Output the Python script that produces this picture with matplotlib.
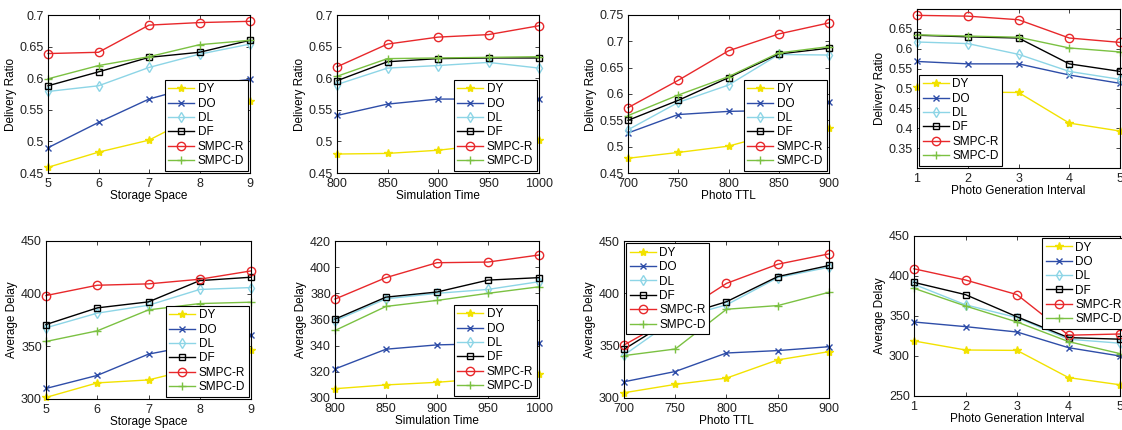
import numpy as np
import matplotlib
matplotlib.use("Agg")
import matplotlib.pyplot as plt
from matplotlib.ticker import FuncFormatter

plt.rcParams["font.family"] = ["Liberation Sans", "DejaVu Sans"]
plt.rcParams["font.size"] = 8.5

# ---------------------------------------------------------------------------
# Data
# ---------------------------------------------------------------------------
series = ["DY", "DO", "DL", "DF", "SMPC-R", "SMPC-D"]

storage_space = [5, 6, 7, 8, 9]
sim_time = [800, 850, 900, 950, 1000]
photo_ttl = [700, 750, 800, 850, 900]
gen_interval = [1, 2, 3, 4, 5]

# delivery ratio
dr_storage = [
    [0.459, 0.483, 0.502, 0.543, 0.564],
    [0.490, 0.530, 0.567, 0.589, 0.598],
    [0.579, 0.588, 0.617, 0.638, 0.654],
    [0.588, 0.610, 0.633, 0.641, 0.660],
    [0.639, 0.641, 0.684, 0.688, 0.690],
    [0.599, 0.620, 0.634, 0.653, 0.660],
]
dr_simtime = [
    [0.480, 0.481, 0.486, 0.495, 0.502],
    [0.541, 0.559, 0.567, 0.567, 0.567],
    [0.590, 0.616, 0.620, 0.625, 0.616],
    [0.596, 0.626, 0.631, 0.632, 0.632],
    [0.618, 0.654, 0.665, 0.669, 0.683],
    [0.603, 0.631, 0.632, 0.633, 0.634],
]
dr_ttl = [
    [0.478, 0.489, 0.501, 0.527, 0.536],
    [0.526, 0.561, 0.567, 0.569, 0.584],
    [0.532, 0.584, 0.617, 0.675, 0.674],
    [0.550, 0.588, 0.631, 0.676, 0.687],
    [0.574, 0.626, 0.682, 0.714, 0.735],
    [0.559, 0.598, 0.633, 0.678, 0.690],
]
dr_interval = [
    [0.505, 0.491, 0.490, 0.413, 0.393],
    [0.568, 0.562, 0.562, 0.534, 0.513],
    [0.617, 0.613, 0.586, 0.543, 0.523],
    [0.634, 0.630, 0.627, 0.562, 0.543],
    [0.684, 0.682, 0.673, 0.627, 0.616],
    [0.635, 0.632, 0.629, 0.602, 0.592],
]

# average delay
ad_storage = [
    [301.5, 315.3, 318.1, 330.0, 346.3],
    [310.0, 322.4, 342.6, 352.0, 361.0],
    [367.6, 381.5, 389.0, 404.0, 405.8],
    [370.7, 386.5, 392.2, 412.4, 415.6],
    [398.2, 408.0, 409.3, 413.7, 421.6],
    [354.6, 364.7, 384.6, 390.6, 391.9],
]
ad_simtime = [
    [307.1, 310.0, 312.0, 315.0, 318.5],
    [322.2, 337.3, 340.6, 341.5, 342.4],
    [359.0, 375.8, 380.0, 383.0, 388.9],
    [360.3, 377.1, 381.0, 390.1, 392.0],
    [375.6, 392.0, 403.4, 403.9, 409.3],
    [351.6, 370.0, 374.6, 380.0, 385.0],
]
ad_ttl = [
    [305.0, 313.0, 319.0, 336.4, 344.3],
    [315.5, 325.3, 343.0, 345.3, 349.0],
    [341.0, 375.5, 389.0, 415.0, 425.0],
    [346.5, 377.0, 392.0, 416.0, 426.6],
    [350.6, 378.0, 409.5, 427.8, 437.7],
    [340.5, 346.8, 384.8, 388.3, 401.0],
]
ad_interval = [
    [318.8, 307.5, 307.0, 273.0, 264.0],
    [342.5, 336.7, 330.0, 310.4, 300.0],
    [389.6, 364.0, 348.0, 321.0, 316.0],
    [392.0, 376.7, 349.0, 323.0, 321.0],
    [409.0, 395.0, 376.7, 326.0, 327.5],
    [384.6, 362.5, 342.5, 318.0, 303.0],
]

# ---------------------------------------------------------------------------
# Styles
# ---------------------------------------------------------------------------
styles = {
    "DY":     dict(color="#F2E200", marker="*", mfc="#F2E200", ms=6),
    "DO":     dict(color="#2E4DA8", marker="x", mfc="none", ms=4),
    "DL":     dict(color="#8DD5E6", marker="d", mfc="none", ms=5.5),
    "DF":     dict(color="#000000", marker="s", mfc="none", ms=5),
    "SMPC-R": dict(color="#E8282B", marker="o", mfc="none", ms=6),
    "SMPC-D": dict(color="#7BC142", marker="+", mfc="none", ms=6),
}

W, H = 1122, 430

# (x, data, xlabel, ylabel, yticks, ylim, legend loc, axes px box l, r, top, bottom)
panels = [
    (storage_space, dr_storage, "Storage Space", "Delivery Ratio",
     np.arange(0.45, 0.701, 0.05), (0.45, 0.70), "lower right", (48, 250, 15, 173)),
    (sim_time, dr_simtime, "Simulation Time", "Delivery Ratio",
     np.arange(0.45, 0.701, 0.05), (0.45, 0.70), "lower right", (337, 539, 15, 173)),
    (photo_ttl, dr_ttl, "Photo TTL", "Delivery Ratio",
     np.arange(0.45, 0.751, 0.05), (0.45, 0.75), "lower right", (628, 829, 15, 173)),
    (gen_interval, dr_interval, "Photo Generation Interval", "Delivery Ratio",
     np.arange(0.35, 0.651, 0.05), (0.30, 0.70), "lower left", (917, 1120, 9, 168)),
    (storage_space, ad_storage, "Storage Space", "Average Delay",
     np.arange(300, 451, 50), (300, 450), "lower right", (46, 251, 241, 399)),
    (sim_time, ad_simtime, "Simulation Time", "Average Delay",
     np.arange(300, 421, 20), (300, 420), "lower right", (335, 539, 241, 398)),
    (photo_ttl, ad_ttl, "Photo TTL", "Average Delay",
     np.arange(300, 451, 50), (300, 450), "upper left", (624, 829, 241, 398)),
    (gen_interval, ad_interval, "Photo Generation Interval", "Average Delay",
     np.arange(250, 451, 50), (250, 450), "clipped", (914, 1120, 236, 396)),
]

fig = plt.figure(figsize=(W / 100, H / 100), dpi=100)

fmt = FuncFormatter(lambda v, _: f"{v:g}")

for x, data, xlabel, ylabel, yticks, ylim, loc, (l, r, t, b) in panels:
    ax = fig.add_axes([l / W, 1 - b / H, (r - l) / W, (b - t) / H])
    for name, ys in zip(series, data):
        st = styles[name]
        ax.plot(x, ys, color=st["color"], marker=st["marker"],
                markerfacecolor=st["mfc"], markeredgecolor=st["color"],
                markersize=st["ms"], markeredgewidth=1.0, linewidth=1.0,
                label=name, clip_on=False)
    ax.set_xlim(x[0], x[-1])
    ax.set_xticks(x)
    ax.set_ylim(*ylim)
    ax.set_yticks(yticks)
    ax.yaxis.set_major_formatter(fmt)
    ax.set_xlabel(xlabel, labelpad=0)
    ax.set_ylabel(ylabel, labelpad=2)
    ax.tick_params(direction="in", length=3, width=0.6, top=True, right=True,
                   labelsize=9, colors="#222222")
    ax.tick_params(axis="x", pad=3.5)
    ax.tick_params(axis="y", pad=3)
    for sp in ax.spines.values():
        sp.set_linewidth(0.8)
    leg_kw = dict(frameon=True, fancybox=False, framealpha=1.0,
                  edgecolor="black", fontsize=8.5, handlelength=2.2,
                  handletextpad=0.3, labelspacing=0.2, borderpad=0.3,
                  borderaxespad=0.2)
    if loc == "clipped":
        # legend runs past the right edge of the picture, as in the source
        leg = ax.legend(loc="upper left",
                        bbox_to_anchor=((1042 - l) / (r - l), 1 - 2 / (b - t)),
                        borderaxespad=0, **{k: v for k, v in leg_kw.items()
                                            if k != "borderaxespad"})
    else:
        leg = ax.legend(loc=loc, **leg_kw)
    leg.get_frame().set_linewidth(0.8)
    leg.set_zorder(5)

fig.savefig("out.png", dpi=100)
